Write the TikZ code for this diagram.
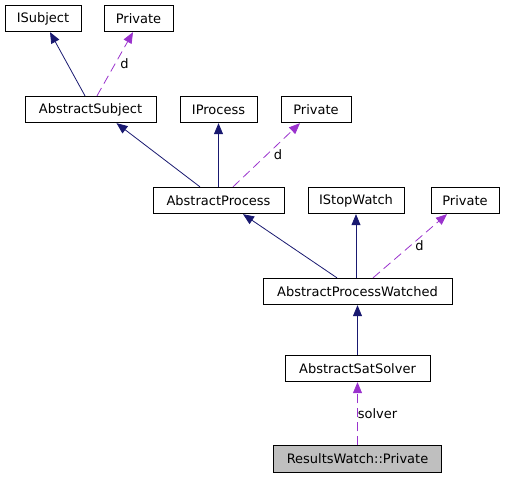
\documentclass[tikz,border=0pt]{standalone}
\usepackage{fontspec}
\setmainfont{DejaVu Sans}
\usepackage{tikz}
\usetikzlibrary{arrows.meta, positioning}
\definecolor{edgeblue}{HTML}{191970}
\definecolor{edgepurple}{HTML}{9A32CD}
\definecolor{boxgray}{HTML}{BFBFBF}
\tikzset{
  clsbox/.style={rectangle, draw, fill=white, line width=0.8pt,
                 minimum height=26.5pt, inner sep=0pt,
                 font=\fontsize{13}{15}\selectfont},
  inherit/.style={-{Triangle[length=11pt, width=9pt]}, edgeblue, line width=0.8pt},
  usage/.style={-{Triangle[length=11pt, width=9pt]}, edgepurple, line width=0.8pt,
                dash pattern=on 9pt off 5pt},
  lbl/.style={font=\fontsize{13}{15}\selectfont, text=black, inner sep=1pt},
}
\begin{document}
\begin{tikzpicture}[x=1pt, y=-1pt, node distance=91pt]
  \useasboundingbox (0,0) rectangle (505,477);

  % Classes
  \node [clsbox, minimum width=131pt] (asubj) at (90.5,109.5) {AbstractSubject};
  \node [clsbox, minimum width=76pt, above of=asubj, xshift=-47.5pt] (isubj) {ISubject};
  \node [clsbox, minimum width=69pt, above of=asubj, xshift=48pt] (priva) {Private};

  \node [clsbox, minimum width=131pt, below of=asubj, xshift=128pt] (aproc) {AbstractProcess};
  \node [clsbox, minimum width=77pt, above of=aproc] (iproc) {IProcess};
  \node [clsbox, minimum width=70pt, above of=aproc, xshift=97.5pt] (privb) {Private};

  \node [clsbox, minimum width=189pt, below of=aproc, xshift=139pt] (apw) {AbstractProcessWatched};
  \node [clsbox, minimum width=96pt, above of=apw, xshift=-1.5pt] (istop) {IStopWatch};
  \node [clsbox, minimum width=68pt, above of=apw, xshift=107.5pt] (privc) {Private};

  \node [clsbox, minimum width=145pt, below of=apw, yshift=14pt] (sat) {AbstractSatSolver};
  \node [clsbox, minimum width=168pt, fill=boxgray, below of=sat, yshift=0.5pt] (rwp) {ResultsWatch::Private};

  % Edges
  \draw [inherit] ([xshift=-5.5pt]asubj.north) -- ([xshift=7pt]isubj.south);
  \draw [usage] ([xshift=6.5pt]asubj.north) -- node[lbl, right, xshift=4pt] {d} ([xshift=-5.5pt]priva.south);

  \draw [inherit] ([xshift=-18.5pt]aproc.north) -- ([xshift=26pt]asubj.south);
  \draw [inherit] (aproc.north) -- (iproc.south);
  \draw [usage] ([xshift=14.5pt]aproc.north) -- node[lbl, right, xshift=6pt] {d} ([xshift=-16pt]privb.south);

  \draw [inherit] ([xshift=-20.5pt]apw.north) -- ([xshift=24.5pt]aproc.south);
  \draw [inherit] ([xshift=-1.5pt]apw.north) -- (istop.south);
  \draw [usage] ([xshift=15.5pt]apw.north) -- node[lbl, right, xshift=4pt] {d} ([xshift=-18pt]privc.south);

  \draw [inherit] (sat.north) -- (apw.south);
  \draw [usage] (rwp.north) -- node[lbl, right, xshift=-1pt] {solver} (sat.south);
\end{tikzpicture}
\end{document}
